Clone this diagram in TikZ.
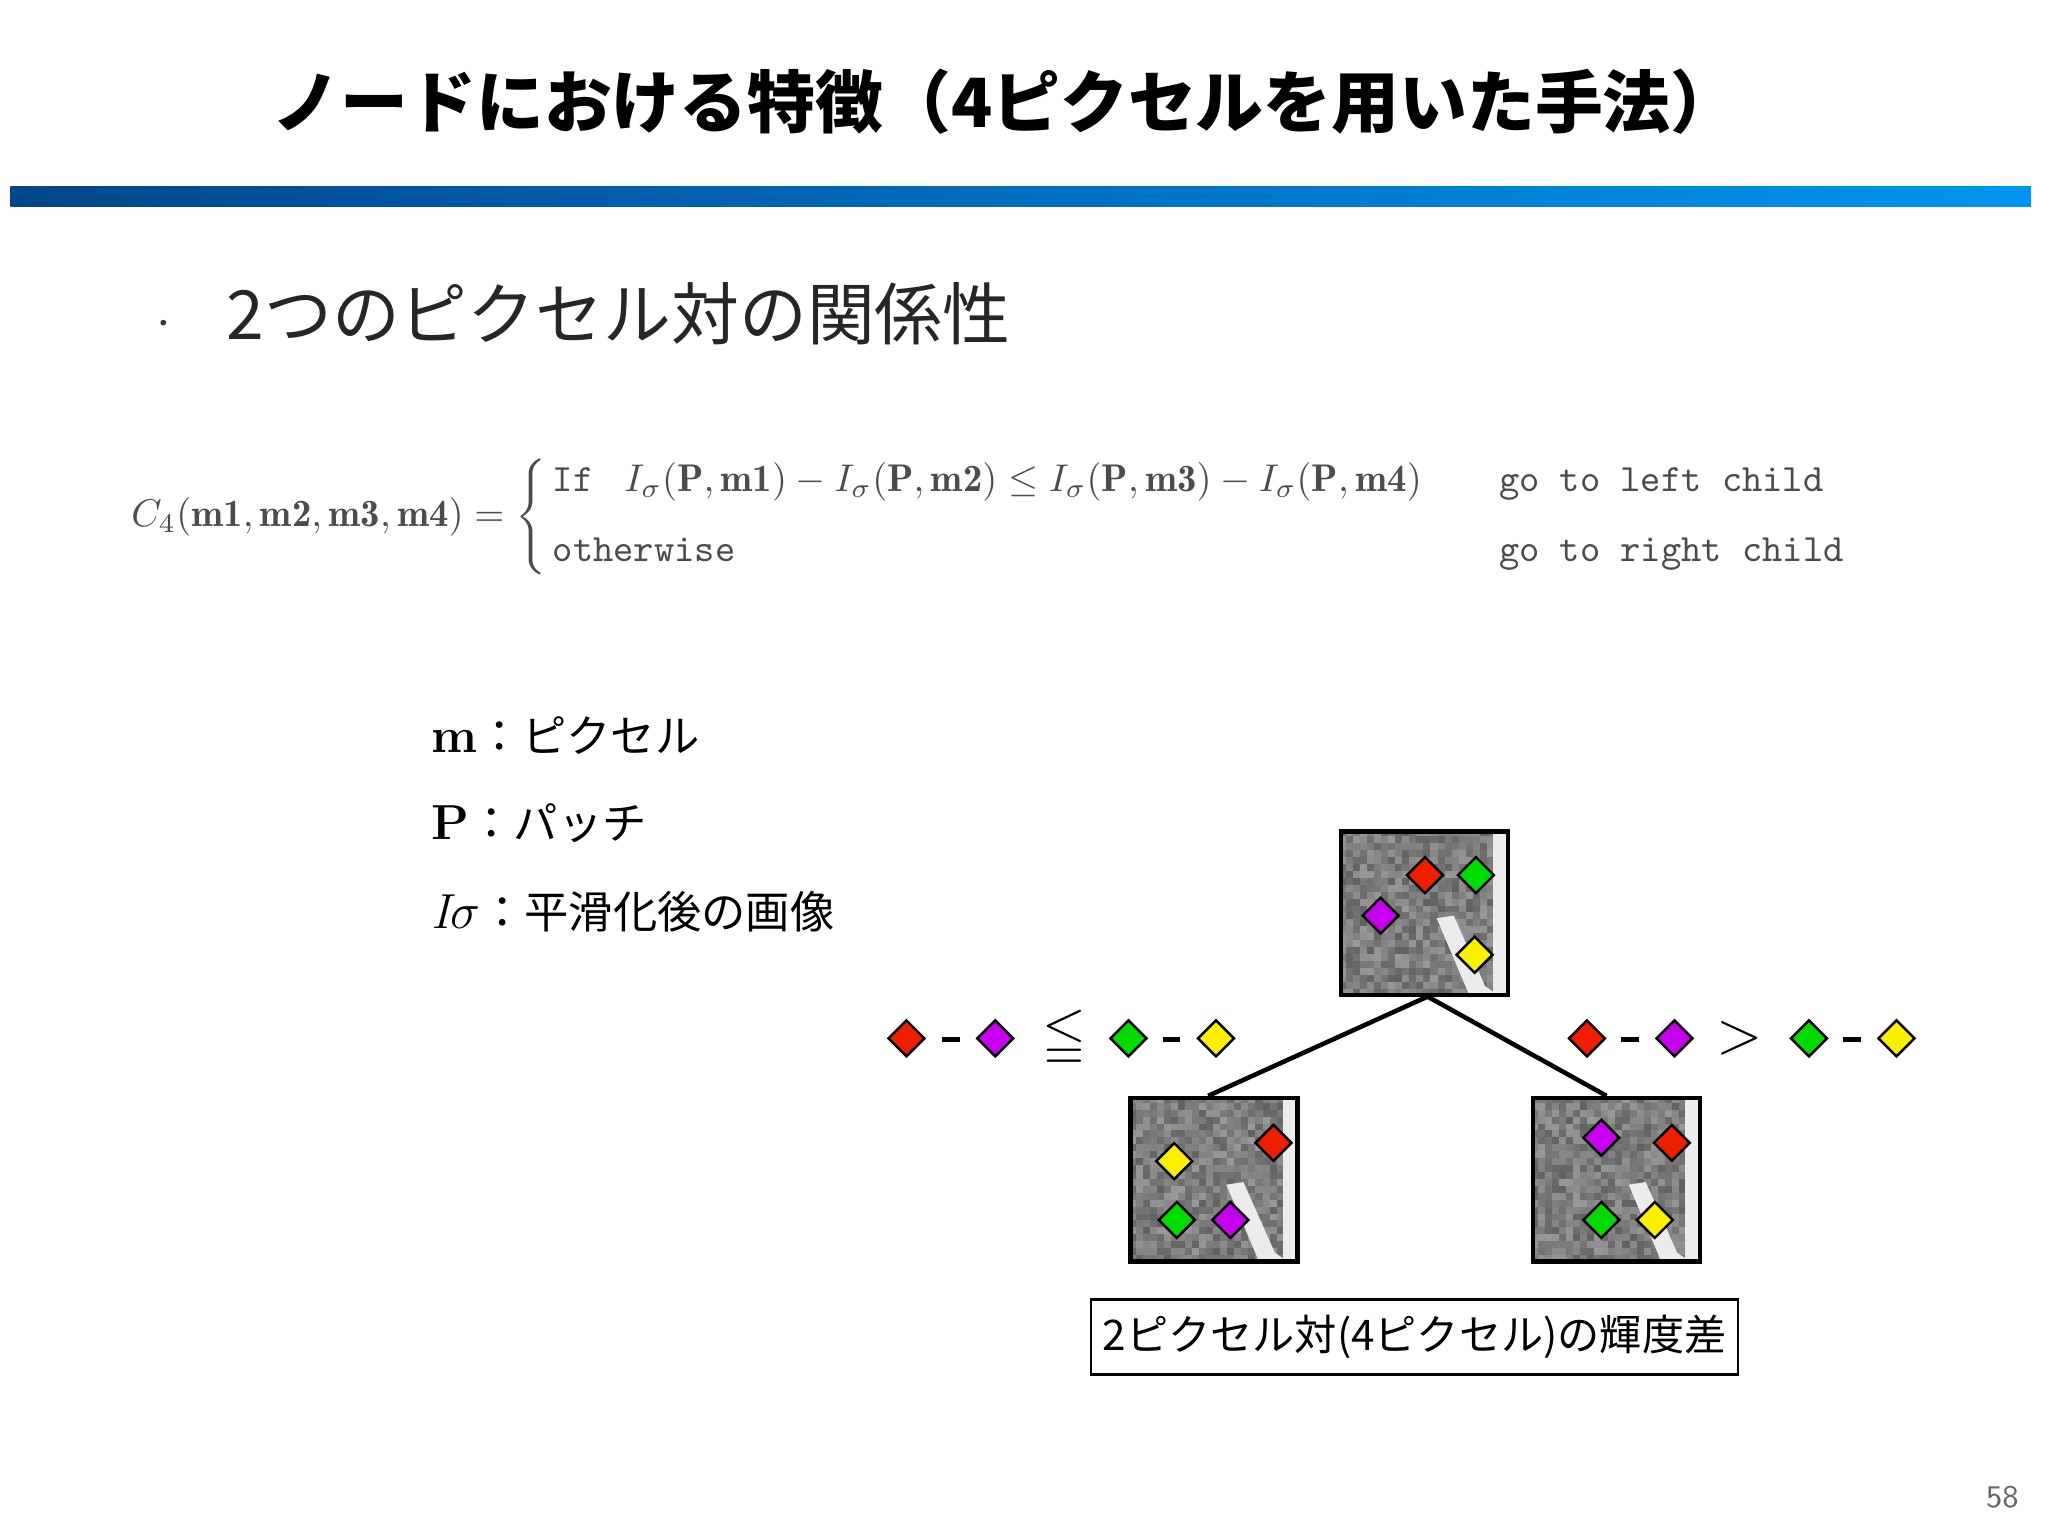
\documentclass[tikz,border=0pt]{standalone}
\usepackage{fontspec}
\usepackage{amsmath,amssymb}
\newfontfamily\jp{Noto Sans CJK JP}
\usetikzlibrary{shapes.geometric}
\definecolor{dred}{RGB}{240,30,0}
\definecolor{dgreen}{RGB}{0,220,0}
\definecolor{dmag}{RGB}{200,0,240}
\definecolor{dyel}{RGB}{250,240,0}
\definecolor{barL}{RGB}{0,70,140}
\definecolor{barR}{RGB}{0,150,240}
\tikzset{
 dm/.style={diamond,draw=black,line width=0.7pt,minimum size=10.5pt,inner sep=0pt,fill=#1},
 jt/.style={font=\jp,anchor=west,inner sep=0pt},
 pbox/.style={draw=black,line width=1.3pt},
 tl/.style={line width=1.3pt,black},
 mn/.style={fill=black,minimum width=5pt,minimum height=1.3pt,inner sep=0pt}
}
\newcommand{\mypatch}[3]{% x y name
  \begin{scope}[shift={(#1,#2)}]
  \foreach \i in {0,...,23}{\foreach \j in {0,...,23}{
    \pgfmathsetmacro\g{40+22*rnd}
    \fill[black!\g] (\i*5.4,\j*5.3) rectangle ++(5.5,5.4);}}
  \fill[white!85!gray] (75,68) -- (88,66) -- (112,120) -- (122,127) -- (100,127) -- (80,80) -- cycle;
  \fill[white!85!gray] (118,0) rectangle (128,127);
  \end{scope}
  \node[pbox,minimum width=47.5pt,minimum height=46.5pt,inner sep=0pt,anchor=north west] (#3) at (#1,#2) {};
}
\begin{document}
\begin{tikzpicture}[x=0.3716pt,y=-0.3716pt]
\pgfmathsetseed{7}
\useasboundingbox (0,0) rectangle (1568,1176);
\node[font=\jp\bfseries\fontsize{19.3pt}{20pt}\selectfont,anchor=center] (title) at (770,78) {ノードにおける特徴（4ピクセルを用いた手法）};
\shade[left color=barL,right color=barR] (8,143) rectangle (1555,158);
\fill[black!80] (125,247) circle (2.2);
\node[jt,font=\jp\fontsize{19.3pt}{20pt}\selectfont,text=black!85] (head) at (173,240) {2つのピクセル対の関係性};
\node[anchor=west,inner sep=0pt,text=black!70] (eq) at (100,396) {\resizebox{494pt}{!}{$C_4(\mathbf{m1},\mathbf{m2},\mathbf{m3},\mathbf{m4})=\left\{\begin{array}{@{\,}l@{\qquad}l}
\texttt{If }\; I_\sigma(\mathbf{P},\mathbf{m1})-I_\sigma(\mathbf{P},\mathbf{m2})\le I_\sigma(\mathbf{P},\mathbf{m3})-I_\sigma(\mathbf{P},\mathbf{m4}) & \texttt{go to left child}\\[6pt]
\texttt{otherwise} & \texttt{go to right child}\end{array}\right.$}};
\node[jt,font=\jp\fontsize{12.6pt}{14pt}\selectfont] (l1) at (330,563) {{\rmfamily\bfseries\fontsize{14pt}{14pt}\selectfont m}：ピクセル};
\node[jt,font=\jp\fontsize{12.6pt}{14pt}\selectfont] (l2) at (330,630) {{\rmfamily\bfseries\fontsize{14pt}{14pt}\selectfont P}：パッチ};
\node[jt,font=\jp\fontsize{12.6pt}{14pt}\selectfont] (l3) at (330,698) {{\rmfamily\itshape\fontsize{14pt}{14pt}\selectfont I$\sigma$}：平滑化後の画像};
\mypatch{1025}{635}{ptop}
\mypatch{864}{839}{pleft}
\mypatch{1172}{839}{pright}
\coordinate (tb) at (1093,763);
\coordinate (lt) at (925,839);
\coordinate (rt) at (1230,839);
\draw[tl] (tb) -- (lt);
\draw[tl] (tb) -- (rt);
\node[dm=dred] (a1) at (1091,670) {};
\node[dm=dgreen] (a2) at (1130,670) {};
\node[dm=dmag] (a3) at (1057,701) {};
\node[dm=dyel] (a4) at (1129,731) {};
\node[dm=dyel] (b1) at (899,889) {};
\node[dm=dred] (b2) at (975,875) {};
\node[dm=dgreen] (b3) at (901,934) {};
\node[dm=dmag] (b4) at (942,934) {};
\node[dm=dmag] (c1) at (1226,871) {};
\node[dm=dred] (c2) at (1280,875) {};
\node[dm=dgreen] (c3) at (1226,934) {};
\node[dm=dyel] (c4) at (1267,934) {};
\node[dm=dred] (d1) at (694,795) {};
\node[mn] (d2) at (728,796) {};
\node[dm=dmag] (d3) at (762,795) {};
\node[font=\fontsize{16pt}{16pt}\selectfont] (d4) at (815,795) {$\leqq$};
\node[dm=dgreen] (d5) at (864,795) {};
\node[mn] (d6) at (897,796) {};
\node[dm=dyel] (d7) at (931,795) {};
\node[dm=dred] (e1) at (1215,795) {};
\node[mn] (e2) at (1248,796) {};
\node[dm=dmag] (e3) at (1282,795) {};
\node[font=\fontsize{16pt}{16pt}\selectfont] (e4) at (1332,795) {$>$};
\node[dm=dgreen] (e5) at (1385,795) {};
\node[mn] (e6) at (1418,796) {};
\node[dm=dyel] (e7) at (1452,795) {};
\node[draw=black,line width=0.8pt,minimum width=181.3pt,minimum height=21.2pt,font=\jp\fontsize{12pt}{14pt}\selectfont] (cap) at (1083,1023.5) {2ピクセル対(4ピクセル)の輝度差};
\node[text=black!60,font=\sffamily\fontsize{9pt}{10pt}\selectfont] (pg) at (1533,1146) {58};
\end{tikzpicture}
\end{document}
